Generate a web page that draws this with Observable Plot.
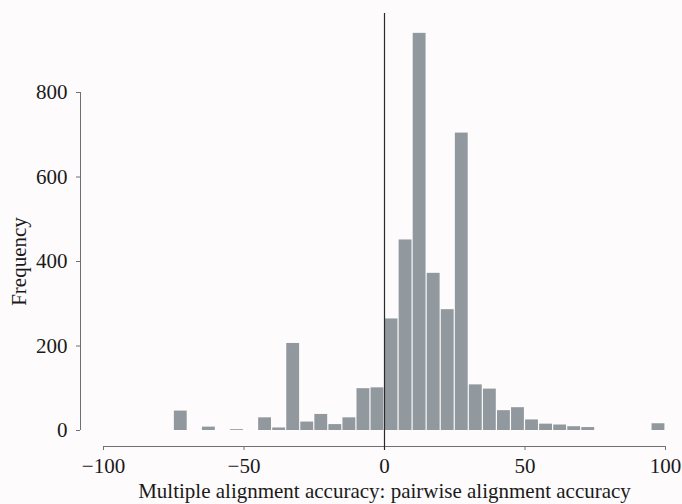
<!DOCTYPE html>
<html>
<head>
<meta charset="utf-8">
<script src="https://cdn.jsdelivr.net/npm/d3@7"></script>
<script src="https://cdn.jsdelivr.net/npm/@observablehq/plot@0.6"></script>
<style>
  html, body { margin: 0; padding: 0; background: #fdfbfc; }
</style>
</head>
<body>
<div id="chart"></div>
<script>
// Histogram bins (start of each 5-unit bin) and frequencies
const binStart = [-75, -65, -55, -45, -40, -35, -30, -25, -20, -15, -10, -5, 0, 5, 10, 15, 20, 25, 30, 35, 40, 45, 50, 55, 60, 65, 70, 95];
const counts   = [46, 8, 2, 30, 6, 206, 20, 38, 14, 30, 99, 101, 264, 451, 940, 372, 286, 704, 108, 98, 47, 54, 25, 15, 13, 9, 7, 16];
const binWidth = 5;
const xTicks = [-100, -50, 0, 50, 100];
const yTicks = [0, 200, 400, 600, 800];
const xLabel = "Multiple alignment accuracy: pairwise alignment accuracy";
const yLabel = "Frequency";

const bins = binStart.map((s, i) => ({x1: s, x2: s + binWidth, count: counts[i]}));

const axisColor = "#707070";
const textColor = "#1a1a1a";

const chart = Plot.plot({
  width: 682,
  height: 504,
  marginLeft: 80,
  marginRight: 10,
  marginTop: 13,
  marginBottom: 58,
  style: {fontFamily: "'Liberation Serif', 'Times New Roman', serif", fontSize: "21px", background: "#fdfbfc", color: textColor},
  x: {domain: [-100, 100], range: [103, 665]},
  y: {domain: [0, 800], range: [430, 92]},
  marks: [
    Plot.rectY(bins, {x1: "x1", x2: "x2", y: "count", fill: "#92999e", insetLeft: 0.6, insetRight: 0.6}),
    // offset axis lines (Stata-style)
    Plot.ruleY([0], {x1: xTicks[0], x2: xTicks[xTicks.length - 1], dy: 16, stroke: axisColor, strokeWidth: 1}),
    Plot.ruleX([xTicks[0]], {y1: yTicks[0], y2: yTicks[yTicks.length - 1], dx: -23, stroke: axisColor, strokeWidth: 1}),
    Plot.axisX({ticks: xTicks, tickSize: 4, tickPadding: 8, stroke: axisColor, fill: textColor, label: null, tickFormat: d3.format("")}),
    Plot.axisY({ticks: yTicks, tickSize: 4, tickPadding: 9, stroke: axisColor, fill: textColor, label: null}),
    // reference line at zero
    Plot.ruleX([0], {stroke: "#2a2a2a", strokeWidth: 1.2, insetBottom: -4}),
    Plot.text([xLabel], {x: () => 0, frameAnchor: "bottom", lineAnchor: "top", textAnchor: "middle", dy: 37, text: d => d, fill: textColor}),
    Plot.text([yLabel], {y: () => 400, frameAnchor: "left", textAnchor: "middle", dx: -61, rotate: -90, text: d => d, fill: textColor})
  ]
});
document.getElementById("chart").appendChild(chart);
</script>
</body>
</html>
